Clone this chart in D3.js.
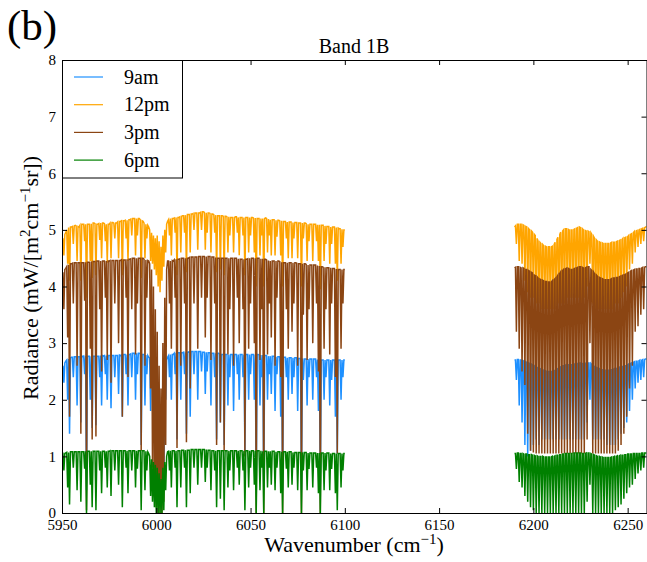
<!DOCTYPE html>
<html>
<head>
<meta charset="utf-8">
<script src="https://cdn.jsdelivr.net/npm/d3@7"></script>
<style>
body { margin: 0; background: #fff; }
text { font-family: "Liberation Serif", "DejaVu Serif", serif; fill: #000; }
</style>
</head>
<body>
<svg id="chart" width="647" height="562"></svg>
<script>
// series names + colours (matplotlib named colours)
var seriesNames = ["9am", "12pm", "3pm", "6pm"]
var seriesColors = ["#1e90ff", "#ffa500", "#8b4513", "#008000"]
var xTicks = [5950, 6000, 6050, 6100, 6150, 6200, 6250]
var yTicks = [0, 1, 2, 3, 4, 5, 6, 7, 8]

// wavenumber grid, 0.5 cm-1 step, two measured windows
var wn1 = d3.range(5950, 6100.5, 0.5)
var wn2 = d3.range(6190, 6260.5, 0.5)

// radiance, mW/[m2 cm-1 sr], one row = 10 cm-1
var nineAm1 = [
  2.55, 2.6, 2.3, 2.65, 2.68, 2.7, 2.0, 2.72, 1.4, 2.74, 2.75, 2.75, 2.4, 2.76, 2.76, 2.76, 1.9, 2.76, 2.76, 2.76,
  1.6, 2.77, 2.76, 2.77, 2.45, 2.77, 0.4, 2.77, 2.77, 2.77, 2.0, 2.77, 1.5, 2.77, 2.77, 2.77, 1.55, 2.77, 2.77, 2.77,
  2.4, 2.78, 1.9, 2.78, 2.77, 2.78, 2.45, 2.78, 2.0, 2.78, 2.78, 2.78, 1.85, 2.78, 2.78, 2.78, 2.4, 2.78, 2.78, 2.78,
  2.1, 2.79, 2.78, 2.79, 1.7, 2.8, 2.8, 2.8, 2.45, 2.8, 1.9, 2.8, 2.8, 2.81, 2.4, 2.82, 2.82, 2.82, 2.0, 2.82,
  2.45, 2.82, 2.82, 2.81, 1.2, 2.8, 2.8, 2.8, 1.9, 2.79, 2.45, 2.78, 2.75, 2.74, 1.8, 2.7, 2.35, 2.6, 1.7, 2.2,
  0.6, 1.2, 0.3, 0.8, 0.2, 0.5, 0.3, 1.0, 0.7, 2.3, 2.0, 2.7, 2.75, 2.78, 2.4, 2.8, 2.0, 2.8, 2.8, 2.82,
  2.45, 2.83, 1.3, 2.83, 2.83, 2.83, 2.0, 2.83, 2.83, 2.84, 2.45, 2.84, 1.4, 2.84, 2.84, 2.85, 1.7, 2.85, 2.85, 2.85,
  2.45, 2.85, 2.85, 2.85, 2.0, 2.85, 2.85, 2.85, 2.5, 2.84, 2.84, 2.84, 2.1, 2.84, 2.5, 2.83, 2.83, 2.83, 1.9, 2.82,
  2.82, 2.82, 2.4, 2.82, 1.3, 2.82, 2.82, 2.81, 1.6, 2.8, 2.8, 2.8, 1.2, 2.8, 2.8, 2.8, 1.9, 2.8, 2.4, 2.8,
  2.8, 2.8, 1.8, 2.8, 2.8, 2.8, 2.45, 2.8, 2.0, 2.8, 2.8, 2.8, 2.4, 2.8, 1.1, 2.8, 2.8, 2.8, 2.0, 2.8,
  2.45, 2.8, 2.8, 2.8, 2.0, 2.8, 0.4, 2.8, 2.8, 2.79, 1.9, 2.79, 2.4, 2.79, 0.4, 2.78, 2.78, 2.78, 2.0, 2.77,
  2.45, 2.77, 2.1, 2.77, 2.77, 2.77, 1.8, 2.76, 2.45, 2.76, 2.76, 2.76, 1.7, 2.76, 0.4, 2.75, 2.75, 2.75, 2.4, 2.74,
  2.0, 2.74, 2.74, 2.74, 2.1, 2.74, 2.4, 2.74, 2.74, 2.74, 1.8, 2.73, 2.73, 2.73, 0.4, 2.73, 2.35, 2.72, 2.72, 2.72,
  1.9, 2.72, 2.4, 2.72, 2.72, 2.72, 2.0, 2.72, 2.72, 2.72, 2.4, 2.71, 1.8, 2.71, 0.5, 2.7, 2.7, 2.7, 2.0, 2.7,
  2.4, 2.7, 2.7, 2.7, 1.9, 2.7, 2.35, 2.7, 2.7, 2.7, 1.7, 2.7, 1.05, 2.7, 2.7, 2.7, 2.0, 2.7, 2.4, 2.7, 2.7
]
var nineAm2 = [
  2.7, 2.7, 2.35, 2.71, 2.71, 1.9, 2.7, 2.7, 1.6, 2.69, 2.68, 1.2, 2.67, 2.66, 1.0, 2.65, 2.64, 1.1, 2.63, 2.62,
  1.2, 2.6, 2.58, 1.3, 2.57, 2.56, 1.2, 2.55, 2.54, 1.3, 2.53, 2.52, 1.3, 2.51, 2.5, 1.3, 2.5, 2.5, 1.3, 2.5,
  2.5, 1.3, 2.51, 2.52, 1.3, 2.54, 2.55, 1.3, 2.57, 2.58, 1.3, 2.6, 2.6, 1.3, 2.61, 2.62, 1.3, 2.62, 2.62, 1.3,
  2.62, 2.62, 1.3, 2.63, 2.63, 1.3, 2.64, 2.64, 1.3, 2.65, 2.65, 1.3, 2.64, 2.64, 1.3, 2.64, 2.65, 1.6, 2.65, 2.65,
  2.0, 2.64, 2.62, 1.3, 2.6, 2.58, 1.3, 2.57, 2.56, 1.3, 2.55, 2.54, 1.3, 2.53, 2.53, 1.3, 2.52, 2.52, 1.2, 2.52,
  2.52, 1.2, 2.53, 2.53, 1.2, 2.54, 2.55, 1.2, 2.55, 2.56, 1.3, 2.57, 2.58, 1.4, 2.58, 2.59, 1.5, 2.6, 2.6, 1.6,
  2.62, 2.63, 1.8, 2.64, 2.65, 2.0, 2.66, 2.67, 2.2, 2.68, 2.68, 2.3, 2.69, 2.7, 2.35, 2.7, 2.71, 2.4, 2.71, 2.72, 2.72
]
var noon1 = [
  4.75, 4.85, 4.55, 4.92, 4.95, 5.0, 4.4, 5.04, 4.1, 5.05, 5.05, 5.06, 4.75, 5.07, 5.08, 5.07, 4.45, 5.06, 5.05, 5.08,
  4.1, 5.1, 5.1, 5.1, 4.8, 5.1, 3.8, 5.1, 5.1, 5.1, 4.45, 5.11, 4.15, 5.12, 5.12, 5.11, 4.2, 5.1, 5.1, 5.11,
  4.82, 5.12, 4.5, 5.12, 5.12, 5.11, 4.8, 5.1, 4.42, 5.1, 5.1, 5.12, 4.5, 5.13, 5.13, 5.12, 4.85, 5.12, 5.12, 5.14,
  4.5, 5.15, 5.15, 5.16, 4.2, 5.16, 5.16, 5.17, 4.85, 5.17, 4.45, 5.18, 5.18, 5.19, 4.9, 5.2, 5.2, 5.2, 4.55, 5.2,
  4.9, 5.2, 5.2, 5.18, 4.15, 5.16, 5.15, 5.12, 4.5, 5.1, 4.85, 5.08, 5.05, 5.0, 4.45, 4.95, 4.4, 4.9, 4.3, 4.85,
  4.2, 4.9, 4.0, 4.8, 3.9, 4.7, 4.1, 4.9, 4.35, 5.0, 4.6, 5.1, 5.15, 5.18, 4.9, 5.2, 4.55, 5.2, 5.2, 5.21,
  4.95, 5.22, 4.2, 5.22, 5.22, 5.23, 4.6, 5.24, 5.25, 5.25, 4.95, 5.26, 4.25, 5.27, 5.27, 5.27, 4.6, 5.28, 5.28, 5.29,
  5.0, 5.3, 5.3, 5.3, 4.65, 5.3, 5.3, 5.31, 5.0, 5.32, 5.32, 5.31, 4.65, 5.3, 4.95, 5.3, 5.3, 5.29, 4.6, 5.28,
  5.28, 5.27, 4.95, 5.26, 4.25, 5.25, 5.25, 5.25, 4.3, 5.25, 5.25, 5.24, 4.2, 5.24, 5.24, 5.23, 4.6, 5.23, 4.9, 5.22,
  5.22, 5.22, 4.6, 5.22, 5.23, 5.23, 4.95, 5.22, 4.55, 5.22, 5.22, 5.22, 4.9, 5.22, 4.2, 5.22, 5.22, 5.22, 4.6, 5.22,
  4.9, 5.22, 5.22, 5.21, 4.6, 5.21, 4.0, 5.2, 5.2, 5.2, 4.55, 5.2, 4.9, 5.2, 4.0, 5.2, 5.21, 5.2, 4.6, 5.19,
  4.9, 5.18, 4.55, 5.18, 5.18, 5.18, 4.55, 5.17, 4.88, 5.17, 5.17, 5.16, 4.55, 5.16, 4.0, 5.15, 5.15, 5.15, 4.85, 5.14,
  4.5, 5.14, 5.14, 5.14, 4.5, 5.13, 4.85, 5.13, 5.13, 5.13, 4.5, 5.12, 5.12, 5.12, 4.0, 5.12, 4.85, 5.12, 5.12, 5.11,
  4.45, 5.1, 4.8, 5.1, 5.1, 5.1, 4.45, 5.1, 5.1, 5.1, 4.8, 5.09, 4.45, 5.09, 3.95, 5.08, 5.08, 5.08, 4.45, 5.07,
  4.75, 5.06, 5.06, 5.06, 4.4, 5.05, 4.75, 5.05, 5.05, 5.05, 4.4, 5.04, 4.1, 5.03, 5.02, 5.02, 4.4, 5.01, 4.7, 5.0, 5.0
]
var noon2 = [
  5.05, 5.07, 4.75, 5.1, 5.1, 4.45, 5.1, 5.1, 4.4, 5.09, 5.08, 4.1, 5.06, 5.05, 3.9, 5.02, 5.0, 3.8, 4.98, 4.96,
  3.8, 4.92, 4.9, 3.7, 4.85, 4.8, 3.7, 4.78, 4.76, 3.6, 4.74, 4.72, 3.6, 4.71, 4.7, 3.6, 4.7, 4.7, 3.6, 4.7,
  4.71, 3.6, 4.74, 4.78, 3.6, 4.83, 4.87, 3.7, 4.92, 4.96, 3.7, 4.98, 5.0, 3.7, 5.02, 5.02, 3.8, 5.01, 5.0, 3.8,
  5.0, 5.0, 3.8, 5.01, 5.02, 3.8, 5.03, 5.04, 3.8, 5.05, 5.04, 3.7, 5.02, 5.0, 3.8, 4.99, 4.98, 4.0, 4.98, 4.97,
  4.4, 4.95, 4.92, 3.7, 4.88, 4.85, 3.6, 4.82, 4.8, 3.6, 4.79, 4.78, 3.6, 4.77, 4.76, 3.6, 4.76, 4.76, 3.6, 4.76,
  4.76, 3.6, 4.77, 4.78, 3.6, 4.78, 4.78, 3.7, 4.79, 4.8, 3.7, 4.81, 4.82, 3.8, 4.83, 4.85, 3.9, 4.86, 4.87, 4.0,
  4.88, 4.9, 4.3, 4.92, 4.93, 4.4, 4.95, 4.97, 4.6, 4.98, 4.99, 4.7, 5.0, 5.01, 4.75, 5.02, 5.03, 4.8, 5.04, 5.05, 5.06
]
var threePm1 = [
  4.15, 4.25, 3.6, 4.3, 4.32, 4.35, 3.1, 4.38, 1.7, 4.4, 4.4, 4.41, 3.7, 4.42, 4.42, 4.42, 2.6, 4.42, 4.42, 4.42,
  1.4, 4.42, 4.42, 4.42, 3.75, 4.43, 0.05, 4.43, 4.43, 4.43, 2.9, 4.44, 1.3, 4.44, 4.44, 4.44, 1.35, 4.45, 4.45, 4.45,
  3.6, 4.45, 2.5, 4.45, 4.45, 4.45, 3.8, 4.45, 2.7, 4.45, 4.45, 4.46, 2.3, 4.46, 4.46, 4.46, 3.7, 4.46, 4.46, 4.46,
  3.0, 4.46, 4.46, 4.47, 1.7, 4.47, 4.47, 4.47, 3.8, 4.48, 2.4, 4.48, 4.48, 4.49, 3.6, 4.5, 4.5, 4.5, 2.8, 4.5,
  3.7, 4.5, 4.5, 4.5, 1.1, 4.5, 4.5, 4.48, 2.6, 4.47, 3.8, 4.46, 4.45, 4.4, 2.2, 4.3, 0.8, 4.0, 0.3, 3.6,
  0.1, 3.2, 0.0, 2.6, 0.0, 2.2, 0.0, 3.0, 0.2, 3.8, 1.2, 4.3, 4.45, 4.45, 3.7, 4.45, 2.9, 4.46, 4.45, 4.47,
  3.8, 4.48, 1.15, 4.48, 4.48, 4.49, 2.6, 4.5, 4.5, 4.5, 3.7, 4.5, 1.25, 4.5, 4.5, 4.51, 2.2, 4.52, 4.52, 4.52,
  3.7, 4.52, 4.52, 4.52, 2.9, 4.53, 4.53, 4.53, 3.8, 4.53, 4.53, 4.53, 3.1, 4.53, 3.8, 4.53, 4.53, 4.53, 2.7, 4.52,
  4.52, 4.52, 3.7, 4.51, 1.2, 4.5, 4.5, 4.5, 1.6, 4.5, 4.5, 4.5, 1.1, 4.5, 4.5, 4.5, 2.8, 4.5, 3.6, 4.5,
  4.5, 4.5, 2.6, 4.5, 4.5, 4.5, 3.8, 4.49, 3.0, 4.48, 4.48, 4.48, 3.6, 4.48, 1.0, 4.48, 4.48, 4.49, 2.9, 4.5,
  3.7, 4.5, 4.5, 4.5, 3.0, 4.5, 0.0, 4.5, 4.5, 4.5, 2.7, 4.49, 3.6, 4.49, 0.0, 4.48, 4.48, 4.47, 2.8, 4.46,
  3.7, 4.45, 3.1, 4.45, 4.45, 4.45, 2.6, 4.45, 3.8, 4.45, 4.45, 4.44, 2.4, 4.43, 0.0, 4.42, 4.42, 4.42, 3.6, 4.42,
  2.9, 4.42, 4.42, 4.42, 3.2, 4.42, 3.7, 4.42, 4.42, 4.41, 2.6, 4.4, 4.4, 4.4, 0.0, 4.4, 3.5, 4.4, 4.4, 4.39,
  2.7, 4.38, 3.6, 4.38, 4.38, 4.38, 3.0, 4.38, 4.38, 4.38, 3.7, 4.37, 2.5, 4.36, 0.0, 4.35, 4.35, 4.34, 2.9, 4.34,
  3.6, 4.33, 4.33, 4.33, 2.8, 4.33, 3.7, 4.32, 4.32, 4.32, 2.4, 4.31, 1.05, 4.3, 4.3, 4.3, 2.9, 4.3, 3.7, 4.3, 4.3
]
var threePm2 = [
  4.33, 4.34, 3.2, 4.35, 4.35, 2.9, 4.34, 4.33, 2.5, 4.33, 4.32, 2.26, 4.3, 4.3, 1.4, 4.28, 4.27, 1.1, 4.25, 4.24,
  1.07, 4.2, 4.19, 1.05, 4.17, 4.15, 1.05, 4.13, 4.12, 1.05, 4.11, 4.1, 1.05, 4.09, 4.09, 1.05, 4.08, 4.08, 1.05, 4.08,
  4.1, 1.05, 4.12, 4.14, 1.05, 4.17, 4.2, 1.05, 4.23, 4.26, 1.05, 4.28, 4.3, 1.05, 4.31, 4.32, 1.05, 4.32, 4.31, 1.05,
  4.3, 4.3, 1.05, 4.31, 4.32, 1.05, 4.33, 4.34, 1.05, 4.35, 4.35, 1.05, 4.34, 4.33, 1.05, 4.33, 4.34, 1.3, 4.35, 4.35,
  3.0, 4.3, 4.28, 1.05, 4.25, 4.22, 1.05, 4.2, 4.18, 1.05, 4.16, 4.15, 1.05, 4.14, 4.13, 1.05, 4.12, 4.12, 1.05, 4.12,
  4.12, 1.05, 4.13, 4.14, 1.05, 4.15, 4.15, 1.05, 4.16, 4.16, 1.1, 4.17, 4.18, 1.2, 4.19, 4.2, 1.4, 4.21, 4.22, 1.7,
  4.24, 4.25, 2.2, 4.27, 4.28, 2.6, 4.29, 4.3, 3.2, 4.31, 4.31, 3.3, 4.32, 4.32, 3.5, 4.33, 4.34, 3.6, 4.34, 4.35, 4.35
]
var sixPm1 = [
  1.02, 1.04, 0.75, 1.05, 1.06, 1.07, 0.45, 1.07, 0.15, 1.08, 1.08, 1.08, 0.8, 1.08, 1.08, 1.08, 0.4, 1.08, 1.08, 1.08,
  0.2, 1.08, 1.08, 1.08, 0.78, 1.09, 0.0, 1.09, 1.09, 1.09, 0.5, 1.09, 0.1, 1.09, 1.09, 1.09, 0.05, 1.09, 1.09, 1.09,
  0.75, 1.09, 0.35, 1.09, 1.09, 1.09, 0.8, 1.09, 0.45, 1.09, 1.09, 1.1, 0.3, 1.1, 1.1, 1.1, 0.75, 1.1, 1.1, 1.1,
  0.5, 1.1, 1.1, 1.1, 0.1, 1.1, 1.1, 1.1, 0.8, 1.1, 0.35, 1.1, 1.1, 1.1, 0.75, 1.1, 1.1, 1.1, 0.45, 1.1,
  0.78, 1.1, 1.1, 1.1, 0.05, 1.1, 1.1, 1.1, 0.4, 1.09, 0.75, 1.08, 1.05, 1.0, 0.3, 0.95, 0.2, 0.9, 0.1, 0.85,
  0.0, 0.8, 0.0, 0.7, 0.0, 0.6, 0.0, 0.8, 0.05, 0.9, 0.4, 1.0, 1.08, 1.09, 0.75, 1.1, 0.45, 1.1, 1.1, 1.1,
  0.8, 1.1, 0.1, 1.1, 1.1, 1.1, 0.45, 1.11, 1.11, 1.11, 0.8, 1.11, 0.1, 1.11, 1.11, 1.11, 0.35, 1.12, 1.12, 1.12,
  0.8, 1.12, 1.12, 1.12, 0.5, 1.12, 1.12, 1.12, 0.8, 1.12, 1.12, 1.12, 0.55, 1.12, 0.8, 1.11, 1.11, 1.11, 0.4, 1.1,
  1.1, 1.1, 0.75, 1.1, 0.1, 1.1, 1.1, 1.1, 0.25, 1.1, 1.1, 1.1, 0.05, 1.1, 1.1, 1.1, 0.45, 1.1, 0.75, 1.1,
  1.1, 1.1, 0.4, 1.1, 1.1, 1.1, 0.8, 1.1, 0.5, 1.1, 1.1, 1.1, 0.75, 1.1, 0.05, 1.1, 1.1, 1.1, 0.45, 1.1,
  0.8, 1.1, 1.1, 1.1, 0.5, 1.1, 0.0, 1.1, 1.1, 1.1, 0.4, 1.1, 0.8, 1.09, 0.0, 1.09, 1.09, 1.09, 0.45, 1.09,
  0.8, 1.09, 0.5, 1.09, 1.09, 1.09, 0.4, 1.08, 0.8, 1.08, 1.08, 1.08, 0.35, 1.08, 0.0, 1.08, 1.08, 1.08, 0.78, 1.08,
  0.45, 1.08, 1.08, 1.08, 0.5, 1.07, 0.8, 1.07, 1.07, 1.07, 0.4, 1.07, 1.07, 1.07, 0.0, 1.07, 0.75, 1.07, 1.07, 1.07,
  0.4, 1.06, 0.78, 1.06, 1.06, 1.06, 0.45, 1.06, 1.06, 1.06, 0.8, 1.06, 0.35, 1.06, 0.0, 1.06, 1.06, 1.06, 0.4, 1.06,
  0.75, 1.06, 1.06, 1.06, 0.4, 1.05, 0.78, 1.05, 1.05, 1.05, 0.35, 1.05, 0.05, 1.05, 1.05, 1.05, 0.45, 1.05, 0.75, 1.05, 1.05
]
var sixPm2 = [
  1.05, 1.05, 0.78, 1.06, 1.06, 0.55, 1.05, 1.05, 0.45, 1.05, 1.04, 0.3, 1.04, 1.04, 0.2, 1.03, 1.03, 0.1, 1.03, 1.02,
  0.05, 1.02, 1.01, 0.0, 1.01, 1.0, 0.0, 1.0, 1.0, 0.0, 1.0, 0.99, 0.0, 0.99, 0.99, 0.0, 0.99, 0.99, 0.0, 0.99,
  1.0, 0.0, 1.0, 1.01, 0.0, 1.02, 1.02, 0.0, 1.03, 1.03, 0.0, 1.04, 1.04, 0.0, 1.05, 1.05, 0.0, 1.05, 1.05, 0.0,
  1.05, 1.05, 0.0, 1.06, 1.06, 0.0, 1.06, 1.06, 0.0, 1.06, 1.06, 0.0, 1.05, 1.05, 0.0, 1.05, 1.06, 0.2, 1.06, 1.06,
  0.5, 1.05, 1.04, 0.0, 1.03, 1.02, 0.0, 1.01, 1.0, 0.0, 1.0, 0.99, 0.0, 0.99, 0.98, 0.0, 0.98, 0.98, 0.0, 0.98,
  0.98, 0.0, 0.98, 0.99, 0.0, 0.99, 1.0, 0.05, 1.0, 1.01, 0.1, 1.01, 1.02, 0.15, 1.02, 1.02, 0.25, 1.03, 1.03, 0.35,
  1.04, 1.04, 0.45, 1.04, 1.04, 0.5, 1.05, 1.05, 0.6, 1.05, 1.05, 0.7, 1.05, 1.05, 0.75, 1.06, 1.06, 0.8, 1.06, 1.06, 1.06
]

var series = [
  [nineAm1, nineAm2],
  [noon1, noon2],
  [threePm1, threePm2],
  [sixPm1, sixPm2]
]

var svg = d3.select("#chart")

var x = d3.scaleLinear().domain([5950, 6260]).range([62, 646.5])
var y = d3.scaleLinear().domain([0, 8]).range([513, 60])

svg.append("defs").append("clipPath").attr("id", "clip")
  .append("rect")
    .attr("x", 62).attr("y", 60)
    .attr("width", 584.5).attr("height", 453)

var line = d3.line()
  .x(function(d) { return x(d[0]) })
  .y(function(d) { return y(d[1]) })

var plot = svg.append("g").attr("clip-path", "url(#clip)")

for(k = 0; k < series.length; k++)
{
  var parts = [d3.zip(wn1, series[k][0]), d3.zip(wn2, series[k][1])]
  for(j = 0; j < parts.length; j++)
  {
    plot.append("path")
      .datum(parts[j])
      .attr("d", line)
      .attr("fill", "none")
      .attr("stroke", seriesColors[k])
      .attr("stroke-width", 1.5)
  }
}

// axes, ticks pointing in on all four sides
function styleAxis(g)
{
  g.selectAll(".domain").attr("stroke", "#000")
  g.selectAll(".tick line").attr("stroke", "#000")
  g.selectAll("text")
    .style("font-family", '"Liberation Serif", serif')
    .style("font-size", "15px")
    .attr("fill", "#222")
}

svg.append("g")
  .attr("transform", "translate(0,513)")
  .call(d3.axisBottom(x).tickValues(xTicks).tickFormat(d3.format("d")).tickSizeInner(-5).tickSizeOuter(0).tickPadding(6))
  .call(styleAxis)

svg.append("g")
  .attr("transform", "translate(0,60)")
  .call(d3.axisTop(x).tickValues(xTicks).tickSizeInner(-5).tickSizeOuter(0).tickFormat(""))
  .call(styleAxis)

svg.append("g")
  .attr("transform", "translate(62,0)")
  .call(d3.axisLeft(y).tickValues(yTicks).tickSizeInner(-5).tickSizeOuter(0).tickPadding(6))
  .call(styleAxis)

svg.append("g")
  .attr("transform", "translate(646.5,0)")
  .call(d3.axisRight(y).tickValues(yTicks).tickSizeInner(-5).tickSizeOuter(0).tickFormat(""))
  .call(styleAxis)

// legend
var legend = svg.append("g")
legend.append("rect")
  .attr("x", 62.5).attr("y", 60.5)
  .attr("width", 120).attr("height", 117.5)
  .attr("fill", "#fff").attr("stroke", "#000")

for(i = 0; i < seriesNames.length; i++)
{
  var ly = 77 + i * 27.7
  legend.append("line")
    .attr("x1", 74).attr("x2", 103)
    .attr("y1", ly).attr("y2", ly)
    .attr("stroke", seriesColors[i])
    .attr("stroke-width", 1.2)
  legend.append("text")
    .attr("x", 124).attr("y", ly + 6.5)
    .style("font-size", "20px")
    .text(seriesNames[i])
}

// labels
svg.append("text")
  .attr("x", 7).attr("y", 40)
  .style("font-size", "43px")
  .text("(b)")

svg.append("text")
  .attr("x", 354).attr("y", 53)
  .attr("text-anchor", "middle")
  .style("font-size", "20px")
  .text("Band 1B")

var xl = svg.append("text")
  .attr("x", 354).attr("y", 552)
  .attr("text-anchor", "middle")
  .style("font-size", "22px")
xl.append("tspan").text("Wavenumber (cm")
xl.append("tspan").attr("dy", -8).style("font-size", "15px").text("\u22121")
xl.append("tspan").attr("dy", 8).text(")")

var yl = svg.append("text")
  .attr("transform", "translate(38,278) rotate(-90)")
  .attr("text-anchor", "middle")
  .style("font-size", "22px")
yl.append("tspan").text("Radiance (mW/[m")
yl.append("tspan").attr("dy", -8).style("font-size", "15px").text("2")
yl.append("tspan").attr("dy", 8).text("cm")
yl.append("tspan").attr("dy", -8).style("font-size", "15px").text("\u22121")
yl.append("tspan").attr("dy", 8).text("sr])")
</script>
</body>
</html>
